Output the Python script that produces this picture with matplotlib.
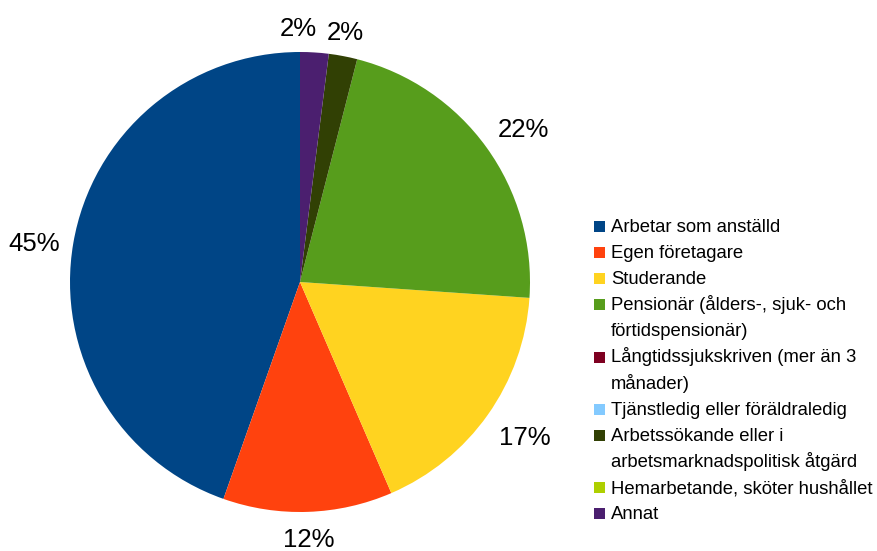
import numpy as np
import matplotlib.pyplot as plt
from matplotlib.patches import Rectangle

plt.rcParams['font.family'] = ['Liberation Sans', 'DejaVu Sans']

# ── data ──────────────────────────────────────────────────────────────────────
categories = [
    "Arbetar som anställd",
    "Egen företagare",
    "Studerande",
    "Pensionär (ålders-, sjuk- och\nförtidspensionär)",
    "Långtidssjukskriven (mer än 3\nmånader)",
    "Tjänstledig eller föräldraledig",
    "Arbetssökande eller i\narbetsmarknadspolitisk åtgärd",
    "Hemarbetande, sköter hushållet",
    "Annat",
]
shares = [44.6, 11.9, 17.4, 22.1, 0.0, 0.0, 2.0, 0.0, 2.0]
colors = ["#004586", "#ff420e", "#ffd320", "#579d1c", "#7e0021",
          "#83caff", "#314004", "#aecf00", "#4b1f6f"]

# ── figure ────────────────────────────────────────────────────────────────────
W, H = 878, 551
fig = plt.figure(figsize=(W / 100, H / 100), dpi=100)
cx, cy, R = 300, 282, 230
ax = fig.add_axes([(cx - R) / W, (H - cy - R) / H, 2 * R / W, 2 * R / H])

wedges, _ = ax.pie(shares, colors=colors, startangle=90, counterclock=True,
                   radius=1.0, wedgeprops=dict(linewidth=0))
ax.set_xlim(-1, 1)
ax.set_ylim(-1, 1)
ax.set_aspect("equal")
ax.axis("off")

# percentage labels placed just outside each slice
for w, v in zip(wedges, shares):
    if v < 0.5:
        continue
    mid = np.deg2rad((w.theta1 + w.theta2) / 2)
    dx, dy = np.cos(mid), np.sin(mid)
    ha = "left" if dx > 0.3 else ("right" if dx < -0.3 else "center")
    va = "bottom" if dy > 0.3 else ("top" if dy < -0.3 else "center")
    shift = -12 if (dy > 0.99 and v < 5) else 0   # keep the two tiny top labels apart
    ax.annotate(f"{v:.0f}%", (1.06 * dx, 1.06 * dy), xytext=(shift, -2),
                textcoords="offset points", ha=ha, va=va, fontsize=18.5,
                annotation_clip=False)

# ── legend (drawn by hand so the swatch sits on the first line) ──────────────
x_sw, y0, pitch, sw = 594, 226.5, 26.1, 11
line = 0
for label, col in zip(categories, colors):
    yc = y0 + pitch * line
    fig.add_artist(Rectangle(((x_sw) / W, 1 - (yc + sw / 2) / H), sw / W, sw / H,
                             transform=fig.transFigure, facecolor=col,
                             edgecolor="none"))
    for part in label.split("\n"):
        yb = y0 + pitch * line + 5.5
        fig.text(611 / W, 1 - yb / H, part, fontsize=13.3, va="baseline", ha="left")
        line += 1

plt.savefig("out.png", dpi=100)
